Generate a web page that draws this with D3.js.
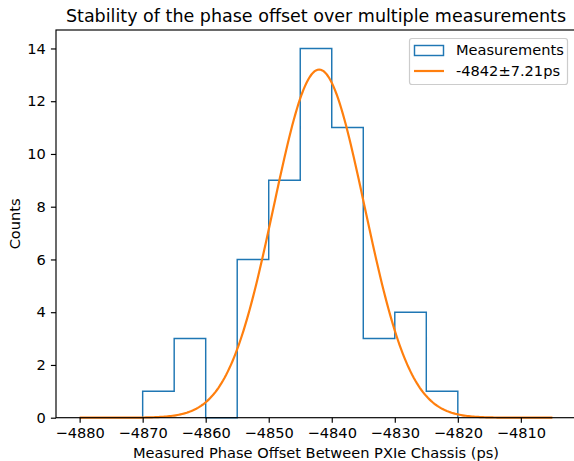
<!DOCTYPE html>
<html><head><meta charset="utf-8">
<script src="https://cdn.jsdelivr.net/npm/d3@7"></script>
<style>body{margin:0;background:#fff}svg{display:block}text{font-family:"DejaVu Sans",sans-serif;fill:#000}</style>
</head><body>
<script>
// Histogram bins (left edges, width 5 ps) and counts
const binEdges = [-4870,-4865,-4860,-4855,-4850,-4845,-4840,-4835,-4830,-4825,-4820];
const binCounts = [1,3,0,6,9,14,11,3,4,1];
// Gaussian fit parameters (from legend / peak)
const fitMean = -4842, fitSigma = 7.21, fitPeak = 13.2;
const fitRange = [-4880, -4805];
const xTicks = [-4880,-4870,-4860,-4850,-4840,-4830,-4820,-4810];
const yTicks = [0,2,4,6,8,10,12,14];
const titleText = "Stability of the phase offset over multiple measurements";
const xLabel = "Measured Phase Offset Between PXIe Chassis (ps)";
const yLabel = "Counts";
const legendLabels = ["Measurements", "-4842\u00b17.21ps"];

const W=574,H=461;
const m={l:56,r:-2,t:30,b:43.3};
const FS=14.6;
const svg=d3.select("body").append("svg").attr("width",W).attr("height",H);
const x=d3.scaleLinear().domain([-4883.75,-4801.25]).range([m.l,W-m.r]);
const y=d3.scaleLinear().domain([0,14.7]).range([H-m.b,m.t]);

svg.append("defs").append("clipPath").attr("id","c").append("rect")
  .attr("x",m.l).attr("y",m.t-2).attr("width",W-m.r-m.l).attr("height",H-m.b-m.t+4);

const g=svg.append("g").attr("clip-path","url(#c)");
// step histogram outline
const pts=[[binEdges[0],0]];
binCounts.forEach((c,i)=>{pts.push([binEdges[i],c]);pts.push([binEdges[i+1],c]);});
pts.push([binEdges[binEdges.length-1],0]);
g.append("path").attr("d",d3.line().x(d=>x(d[0])).y(d=>y(d[1]))(pts))
  .attr("fill","none").attr("stroke","#1f77b4").attr("stroke-width",1.46).attr("stroke-linejoin","miter");

// gaussian fit curve
const fx=d3.range(0,301).map(i=>fitRange[0]+(fitRange[1]-fitRange[0])*i/300);
const fitPts=fx.map(v=>[v,fitPeak*Math.exp(-0.5*Math.pow((v-fitMean)/fitSigma,2))]);
g.append("path").attr("d",d3.line().x(d=>x(d[0])).y(d=>y(d[1]))(fitPts))
  .attr("fill","none").attr("stroke","#ff7f0e").attr("stroke-width",2.2);

// axes
const xa=svg.append("g").attr("transform",`translate(0,${H-m.b})`)
  .call(d3.axisBottom(x).tickValues(xTicks).tickSize(5.1).tickPadding(5.1).tickFormat(d=>"\u2212"+Math.abs(d)));
const ya=svg.append("g").attr("transform",`translate(${m.l},0)`)
  .call(d3.axisLeft(y).tickValues(yTicks).tickSize(5.1).tickPadding(5.1));
[xa,ya].forEach(a=>{a.selectAll("text").style("font-size",FS+"px").style("font-family","DejaVu Sans");
  a.selectAll("line").attr("stroke","#000").attr("stroke-width",1.17);
  a.select(".domain").remove();});
// spines
svg.append("rect").attr("x",m.l).attr("y",m.t).attr("width",W-m.r-m.l).attr("height",H-m.b-m.t)
  .attr("fill","none").attr("stroke","#000").attr("stroke-width",1.17);

svg.append("text").attr("x",(m.l+W-m.r)/2).attr("y",21.5).attr("text-anchor","middle")
  .style("font-size","17.5px").text(titleText);
svg.append("text").attr("x",(m.l+W-m.r)/2).attr("y",458).attr("text-anchor","middle")
  .style("font-size",FS+"px").text(xLabel);
svg.append("text").attr("transform",`translate(19.5,${(m.t+H-m.b)/2}) rotate(-90)`).attr("text-anchor","middle")
  .style("font-size",FS+"px").text(yLabel);

// legend
const lg=svg.append("g");
lg.append("rect").attr("x",409.5).attr("y",38.5).attr("width",158).attr("height",46).attr("rx",2.5)
  .attr("fill","#fff").attr("fill-opacity",0.8).attr("stroke","#ccc").attr("stroke-width",1.2);
lg.append("rect").attr("x",414.5).attr("y",45.5).attr("width",29).attr("height",10)
  .attr("fill","none").attr("stroke","#1f77b4").attr("stroke-width",1.46);
lg.append("line").attr("x1",414).attr("x2",444).attr("y1",71).attr("y2",71)
  .attr("stroke","#ff7f0e").attr("stroke-width",2.2);
lg.append("text").attr("x",456).attr("y",55).style("font-size",FS+"px").text(legendLabels[0]);
lg.append("text").attr("x",456).attr("y",76).style("font-size",FS+"px").text(legendLabels[1]);
</script>
</body></html>
